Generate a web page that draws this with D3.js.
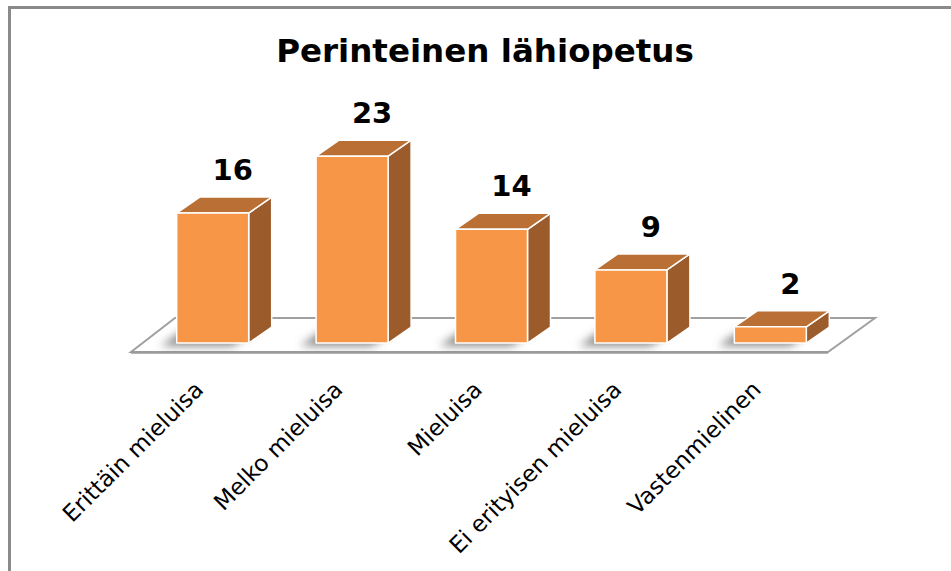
<!DOCTYPE html>
<html><head><meta charset="utf-8">
<script src="https://cdn.jsdelivr.net/npm/d3@7/dist/d3.min.js"></script>
<style>html,body{margin:0;padding:0;background:#fff;}svg{display:block;}</style>
</head><body>
<script>
const title = "Perinteinen lähiopetus";
const categories = ["Erittäin mieluisa", "Melko mieluisa", "Mieluisa", "Ei erityisen mieluisa", "Vastenmielinen"];
const values = [16, 23, 14, 9, 2];

const W = 951, H = 571;
const svg = d3.select("body").append("svg").attr("width", W).attr("height", H);
svg.append("rect").attr("width", W).attr("height", H).attr("fill", "#fff");

const defs = svg.append("defs");
defs.append("filter").attr("id", "blur").attr("x", "-50%").attr("y", "-50%").attr("width", "200%").attr("height", "200%")
  .append("feGaussianBlur").attr("stdDeviation", 4);

// border
svg.append("rect").attr("x", 9.5).attr("y", 7.5).attr("width", 1000).attr("height", 700)
  .attr("fill", "none").attr("stroke", "#8a8a8a").attr("stroke-width", 3);

const x = d3.scaleBand().domain(categories).range([143, 840]).paddingInner(0.4835).paddingOuter(0.2417);
const y = d3.scaleLinear().domain([0, 25]).range([343, 140]);
const dx = 23, dy = 16;
const y0 = y(0);

// floor
const [r0, r1] = x.range();
const floor = [[r0 - 12, y0 + 9], [r1 - 12, y0 + 9], [r1 + 35, y0 - 25], [r0 + 32, y0 - 25]];
svg.append("polygon").attr("points", floor.map(p => p.join(",")).join(" "))
  .attr("fill", "#fff").attr("stroke", "#a0a0a0").attr("stroke-width", 2).attr("stroke-linejoin", "miter");
svg.append("line").attr("x1", floor[0][0]).attr("x2", floor[1][0]).attr("y1", y0 + 9.5).attr("y2", y0 + 9.5)
  .attr("stroke", "#9a9a9a").attr("stroke-width", 2.5);

// shadows
const clip = defs.append("clipPath").attr("id", "floorclip");
clip.append("polygon").attr("points", floor.map(p => p.join(",")).join(" "));
const sh = svg.append("g").attr("clip-path", "url(#floorclip)").append("g").attr("filter", "url(#blur)");
categories.forEach((c) => {
  const xl = x(c), bw = x.bandwidth();
  const pts = [[xl - 16, y0 + 3], [xl + bw - 16, y0 + 3], [xl + bw + dx - 16, y0 - dy + 3], [xl + dx - 16, y0 - dy + 3]];
  sh.append("polygon").attr("points", pts.map(p => p.join(",")).join(" ")).attr("fill", "#6a6a6a").attr("opacity", 0.8);
});

// bars
const g = svg.append("g");
categories.forEach((c, i) => {
  const xl = x(c), bw = x.bandwidth(), yt = y(values[i]);
  const bar = g.append("g").attr("stroke", "#fff").attr("stroke-width", 1.5).attr("stroke-linejoin", "round");
  bar.append("polygon").attr("points", [[xl + bw, yt], [xl + bw + dx, yt - dy], [xl + bw + dx, y0 - dy], [xl + bw, y0]].map(p => p.join(",")).join(" "))
    .attr("fill", "#9b5b2a");
  bar.append("polygon").attr("points", [[xl, yt], [xl + dx, yt - dy], [xl + bw + dx, yt - dy], [xl + bw, yt]].map(p => p.join(",")).join(" "))
    .attr("fill", "#ba7034");
  bar.append("rect").attr("x", xl).attr("y", yt).attr("width", bw).attr("height", y0 - yt).attr("fill", "#f79646");
  // value label
  svg.append("text").attr("x", xl + bw / 2 + 20).attr("y", yt - dy - 17)
    .attr("text-anchor", "middle").attr("font-family", "'DejaVu Sans', Verdana, sans-serif")
    .attr("font-weight", "bold").attr("font-size", 29).attr("fill", "#000").text(values[i]);
});

// category labels
categories.forEach((c) => {
  const cx = x(c) + x.bandwidth() / 2 - 8;
  svg.append("text").attr("transform", `translate(${cx},391) rotate(-45)`)
    .attr("text-anchor", "end").attr("font-family", "'DejaVu Sans', Verdana, sans-serif")
    .attr("font-size", 23).attr("fill", "#000").text(c);
});

// title
const t = svg.append("text").attr("x", 485).attr("y", 62).attr("text-anchor", "middle")
  .attr("font-family", "'DejaVu Sans', Verdana, sans-serif").attr("font-weight", "bold")
  .attr("font-size", 27).attr("fill", "#000").text(title);
const tl = t.node().getComputedTextLength();
t.attr("font-size", 27 * 418 / tl);
</script>
</body></html>
